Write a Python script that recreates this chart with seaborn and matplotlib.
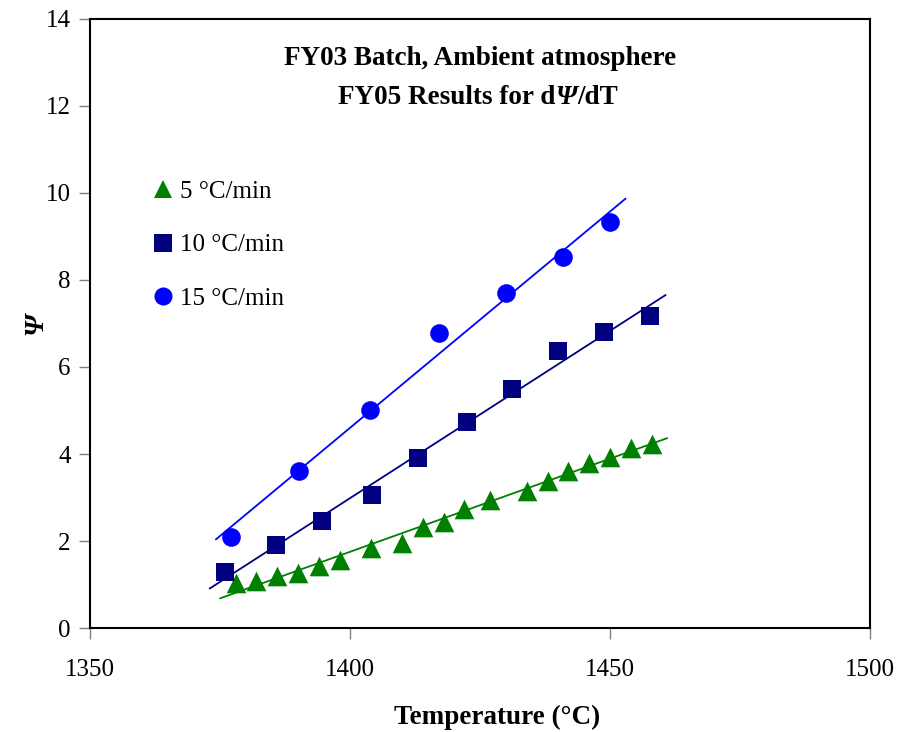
import numpy as np
import pandas as pd
import matplotlib
matplotlib.use("Agg")
import matplotlib.pyplot as plt
import seaborn as sns
from matplotlib.lines import Line2D

# data
temp_5 = [1378, 1382, 1386, 1390, 1394, 1398, 1404, 1410, 1414, 1418,
          1422, 1427, 1434, 1438, 1442, 1446, 1450, 1454, 1458]
psi_5 = [1.05, 1.09, 1.21, 1.28, 1.44, 1.57, 1.84, 1.95, 2.32, 2.43,
         2.75, 2.94, 3.15, 3.38, 3.62, 3.79, 3.94, 4.14, 4.23]
temp_10 = [1376, 1385.7, 1394.7, 1404.2, 1413.1, 1422.4, 1431.2, 1439.9, 1448.9, 1457.7]
psi_10 = [1.30, 1.91, 2.47, 3.06, 3.90, 4.74, 5.49, 6.37, 6.81, 7.18]
temp_15 = [1377.2, 1390.2, 1403.8, 1417.2, 1429.9, 1440.9, 1450.0]
psi_15 = [2.10, 3.62, 5.01, 6.77, 7.70, 8.53, 9.33]

labels = ["5 \u00b0C/min", "10 \u00b0C/min", "15 \u00b0C/min"]
colors = ["#008000", "#000080", "#0000FF"]
markers = ["^", "s", "o"]
sizes = [200, 170, 180]

sns.set_style("ticks")
plt.rcParams['font.family'] = ['Liberation Serif', 'DejaVu Serif']
plt.rcParams['text.color'] = 'black'
plt.rcParams['axes.labelcolor'] = 'black'
plt.rcParams['xtick.labelcolor'] = 'black'
plt.rcParams['ytick.labelcolor'] = 'black'

fig = plt.figure(figsize=(9.04, 7.32), dpi=100)
ax = fig.add_axes([0.0996, 0.1417, 0.8628, 0.833])

series = [(temp_5, psi_5), (temp_10, psi_10), (temp_15, psi_15)]
for (t, p), lab, c, m, s in zip(series, labels, colors, markers, sizes):
    df = pd.DataFrame({"T": t, "psi": p})
    # linear trendline, extended a little past the data like Excel
    k, b = np.polyfit(df["T"], df["psi"], 1)
    fx = np.array([df["T"].min() - 3, df["T"].max() + 3])
    sns.lineplot(x=fx, y=k * fx + b, color=c, linewidth=1.3, ax=ax)
    sns.scatterplot(data=df, x="T", y="psi", marker=m, color=c, s=s,
                    linewidth=0, ax=ax, zorder=3)

ax.set_xlim(1350, 1500)
ax.set_ylim(0, 14)
ax.set_xticks([1350, 1400, 1450, 1500])
ax.set_yticks(range(0, 15, 2))
ax.tick_params(direction="out", length=8, width=1, color="gray",
               labelsize=18, pad=6)
ax.tick_params(axis="x", pad=14)
for sp in ax.spines.values():
    sp.set_linewidth(1.5)
    sp.set_color("black")

ax.set_xlabel("Temperature (\u00b0C)", fontsize=19.5, fontweight="bold")
ax.xaxis.set_label_coords(0.522, -0.126)
ax.set_ylabel("\u03a8", fontsize=20, fontweight="bold", style="italic", labelpad=-2)

# title inside the plot
ax.text(0.5, 0.934, "FY03 Batch, Ambient atmosphere", transform=ax.transAxes,
        ha="center", va="center", fontsize=19.5, fontweight="bold")
t1 = ax.text(0.318, 0.871, "FY05 Results for d", transform=ax.transAxes,
             ha="left", va="center", fontsize=19.5, fontweight="bold")
t2 = ax.annotate("\u03a8", xy=(1, 0), xycoords=t1, va="bottom", ha="left",
                 fontsize=19.5, fontweight="bold", style="italic")
ax.annotate("/dT", xy=(1, 0), xycoords=t2, va="bottom", ha="left",
            fontsize=19.5, fontweight="bold")

handles = [Line2D([], [], linestyle="none", marker=m, color=c,
                  markersize=13, markeredgewidth=0)
           for m, c in zip(markers, colors)]
ax.legend(handles, labels, loc="upper left", bbox_to_anchor=(0.045, 0.772),
          frameon=False, fontsize=18, labelspacing=1.25, handletextpad=0.1,
          handlelength=1.2)

fig.savefig("out.png", dpi=100)
